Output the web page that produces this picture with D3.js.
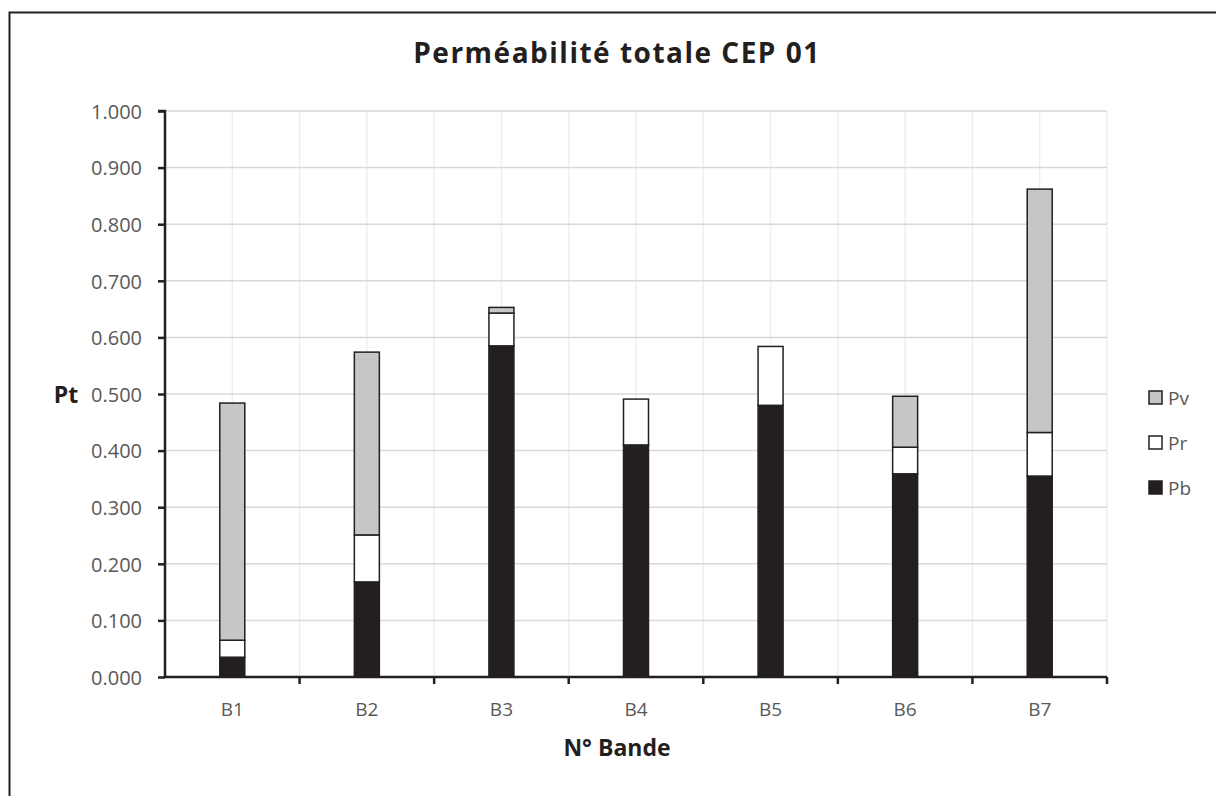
<!DOCTYPE html>
<html><head><meta charset="utf-8">
<script src="https://cdn.jsdelivr.net/npm/d3@7"></script>
<style>body{margin:0;background:#fff;} svg{display:block;}</style>
</head><body>
<script>
const categories = ["B1","B2","B3","B4","B5","B6","B7"];
const Pb = [0.035,0.168,0.585,0.410,0.480,0.359,0.355];
const Pr = [0.030,0.083,0.058,0.081,0.104,0.047,0.077];
const Pv = [0.419,0.323,0.010,0.000,0.000,0.090,0.430];
const seriesNames = ["Pb","Pr","Pv"];
const seriesColors = {Pb:"#231f20", Pr:"#ffffff", Pv:"#c6c6c6"};
const yTicks = [0,0.1,0.2,0.3,0.4,0.5,0.6,0.7,0.8,0.9,1.0];

const W=1216,H=796;
const FONT="'Open Sans',sans-serif";
const svg=d3.select("body").append("svg").attr("width",W).attr("height",H);
svg.append("rect").attr("width",W).attr("height",H).attr("fill","#fff");
svg.append("rect").attr("x",9.5).attr("y",12.5).attr("width",1400).attr("height",1000)
  .attr("fill","none").attr("stroke","#231f20").attr("stroke-width",2);

const pL=165,pR=1107,pT=111,pB=677;
const x=d3.scaleBand().domain(categories).range([pL,pR]);
const y=d3.scaleLinear().domain([0,1]).range([pB,pT]);

const g=svg.append("g");
for(let i=1;i<=categories.length*2;i++){
  const xx=pL+i*x.bandwidth()/2;
  g.append("line").attr("x1",xx).attr("x2",xx).attr("y1",pT).attr("y2",pB)
   .attr("stroke","#efefef").attr("stroke-width",1.5);
}
yTicks.forEach(t=>{
  if(t===0) return;
  g.append("line").attr("x1",pL).attr("x2",pR).attr("y1",y(t)).attr("y2",y(t))
   .attr("stroke","#d9d9d9").attr("stroke-width",1.5);
});

const data=categories.map((c,i)=>({cat:c,Pb:Pb[i],Pr:Pr[i],Pv:Pv[i]}));
const stack=d3.stack().keys(seriesNames)(data);
const bw=25;
stack.forEach(s=>{
  svg.append("g").selectAll("rect").data(s.filter(d=>d[1]-d[0]>0)).join("rect")
    .attr("x",d=>x(d.data.cat)+x.bandwidth()/2-bw/2)
    .attr("width",bw)
    .attr("y",d=>y(d[1]))
    .attr("height",d=>y(d[0])-y(d[1]))
    .attr("fill",seriesColors[s.key])
    .attr("stroke","#231f20").attr("stroke-width",1.5);
});

const yAxis=d3.axisLeft(y).tickValues(yTicks).tickFormat(d3.format(".3f")).tickSize(7);
const ya=svg.append("g").attr("transform",`translate(${pL},0)`).call(yAxis);
ya.select(".domain").attr("stroke","#231f20").attr("stroke-width",2.5).attr("d",`M-7,${pT}H0V${pB}`);
ya.selectAll(".tick line").attr("stroke","#231f20").attr("stroke-width",2.5);
ya.selectAll(".tick text").attr("fill","#595959").attr("font-size","20px")
  .attr("font-family",FONT).attr("x",-23).attr("dy","0.36em");

const xAxis=d3.axisBottom(x).tickSize(0);
const xa=svg.append("g").attr("transform",`translate(0,${pB})`).call(xAxis);
xa.select(".domain").attr("stroke","#231f20").attr("stroke-width",2.5).attr("d",`M${pL},0H${pR}`);
xa.selectAll(".tick text").attr("fill","#595959").attr("font-size","19px")
  .attr("font-family",FONT).attr("y",39).attr("dy","0");
for(let i=1;i<=categories.length;i++){
  const xx=pL+i*x.bandwidth();
  xa.append("line").attr("x1",xx).attr("x2",xx).attr("y1",0).attr("y2",7)
    .attr("stroke","#231f20").attr("stroke-width",2.5);
}

svg.append("text").attr("x",617).attr("y",63).attr("text-anchor","middle")
  .attr("font-family",FONT).attr("font-weight","bold").attr("font-size","28px")
  .attr("letter-spacing","1.5px")
  .attr("fill","#231f20").text("Perméabilité totale CEP 01");
svg.append("text").attr("x",617).attr("y",756).attr("text-anchor","middle")
  .attr("font-family",FONT).attr("font-weight","bold").attr("font-size","23px")
  .attr("fill","#231f20").text("N° Bande");
svg.append("text").attr("x",66).attr("y",403).attr("text-anchor","middle")
  .attr("font-family",FONT).attr("font-weight","bold").attr("font-size","23px")
  .attr("fill","#231f20").text("Pt");

const legendOrder=["Pv","Pr","Pb"];
legendOrder.forEach((k,i)=>{
  const ly=397.5+i*45;
  svg.append("rect").attr("x",1149).attr("y",ly-6.5).attr("width",13).attr("height",13)
    .attr("fill",seriesColors[k]).attr("stroke","#231f20").attr("stroke-width",1.5);
  svg.append("text").attr("x",1168).attr("y",ly+7).attr("font-family",FONT)
    .attr("font-size","19px").attr("fill","#595959").text(k);
});
</script>
</body></html>
